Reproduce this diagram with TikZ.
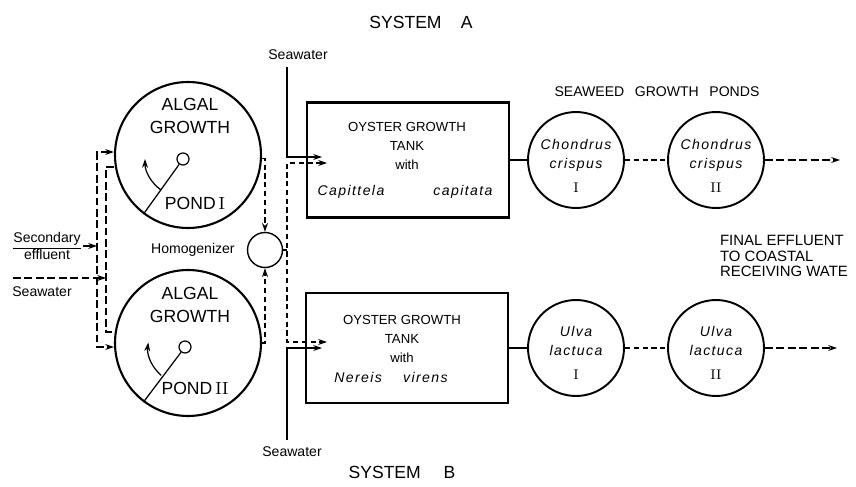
\documentclass[tikz,border=0pt]{standalone}
\usepackage{fontspec}
\setsansfont{Liberation Sans}
\newfontfamily\spcfont{Liberation Sans}[LetterSpace=10]
\usepackage{tikz}
\usetikzlibrary{positioning,arrows.meta,calc}
\newcommand{\rnum}[1]{{\normalfont #1}}
\tikzset{
  pond/.style={draw,circle,line width=1.2pt,minimum size=2.92cm,inner sep=0pt},
  hub/.style={draw,circle,line width=0.7pt,minimum size=0.24cm,inner sep=0pt},
  mixer/.style={draw,circle,line width=0.8pt,minimum size=0.7cm,inner sep=0pt},
  weed/.style={draw,circle,line width=1.1pt,minimum size=1.92cm,inner sep=0pt},
  tank/.style={draw,line width=1.5pt,minimum width=4.04cm,minimum height=2.3cm,inner sep=0pt},
  big/.style={font=\sffamily\fontsize{10}{13}\selectfont,align=center,inner sep=1pt},
  lbl/.style={font=\sffamily\fontsize{8}{9.5}\selectfont,align=center,inner sep=1pt},
  ttl/.style={font=\sffamily\fontsize{7.5}{10.8}\selectfont,align=center,inner sep=1pt},
  spc/.style={font=\spcfont\itshape\fontsize{8}{10.8}\selectfont,align=center,inner sep=1pt},
  pipe/.style={line width=0.7pt},
  dpipe/.style={pipe,dash pattern=on 3pt off 2pt},
  lpipe/.style={pipe,dash pattern=on 4.5pt off 2pt},
  arr/.style={-{Stealth[length=5pt,width=3.4pt]}},
  arrs/.style={{Stealth[length=5pt,width=3.4pt]}-{Stealth[length=5pt,width=3.4pt]}},
}
\begin{document}
\begin{tikzpicture}[x=0.02cm,y=-0.02cm]
\useasboundingbox (0,0) rectangle (856,487);
\node[big] (sysA) at (421,22) {SYSTEM\hspace{11pt}A};
\node[big] (sysB) at (402,472) {SYSTEM\hspace{13pt}B};
\node[pond] (pondI) at (188,155) {};
\node[big] (algI) at (190,116) {ALGAL\\GROWTH};
\node[hub] (hubI) at (183,159) {};
\node[big] (pnI) at (195,203) {POND\,\rnum{I}};
\draw[pipe] (hubI) -- (pondI.233);
\draw[pipe,arr] ($(hubI)+(235:0.76cm)$) arc[start angle=235,end angle=180,radius=0.76cm];
\node[pond] (pondII) at (188,343) {};
\node[big] (algII) at (190,305) {ALGAL\\GROWTH};
\node[hub] (hubII) at (185,347) {};
\node[big] (pnII) at (195,388) {POND\,\rnum{II}};
\draw[pipe] (hubII) -- (pondII.233);
\draw[pipe,arr] ($(hubII)+(230:0.74cm)$) arc[start angle=230,end angle=173,radius=0.74cm];
\node[mixer] (homog) at (265,250) {};
\node[lbl,left=0.2cm of homog] (homlbl) {Homogenizer};
\draw[dpipe,arr] (pondI.357) -| (homog.north);
\draw[dpipe,arr] (pondII.0) -| (homog.south);
\node[lbl] (seceff) at (47,246) {\underline{Secondary}\\effluent};
\node[lbl] (swL) at (42,292) {Seawater};
\coordinate (effTop) at (97,152);
\coordinate (effBot) at (97,347);
\coordinate (swTop) at (106,167);
\coordinate (swBot) at (106,332);
\coordinate (swLin) at (13,278);
\draw[lpipe,arrs] (effTop -| pondI.west) -- (effTop) -- (effBot) -- (effBot -| pondII.west);
\draw[lpipe] (swTop -| pondI.west) -- (swTop) -- (swBot) -- (swBot -| pondII.west);
\draw[pipe,arr] (seceff.east) -- (seceff.east -| effTop);
\draw[lpipe,arr] (swLin) -- (swLin -| swTop);
\node[tank] (tankA) at (408,160) {};
\node[tank,minimum height=2.2cm] (tankB) at (407,348) {};
\node[ttl] (ttlA) at (407,146) {OYSTER GROWTH\\TANK\\with};
\node[ttl] (ttlB) at (402,339) {OYSTER GROWTH\\TANK\\with};
\node[spc] (spA1) at (351,192) {Capittela};
\node[spc] (spA2) at (463,192) {capitata};
\node[spc] (spB) at (391,377) {Nereis\hspace{12pt}virens};
\node[lbl] (swA) at (298,55) {Seawater};
\node[lbl] (swB) at (292,452) {Seawater};
\coordinate (swAtop) at (287,67);
\coordinate (swBbot) at (287,440);
\coordinate (mixTop) at (287,163);
\coordinate (mixBot) at (287,342);
\coordinate (inA1) at (322,157);
\coordinate (inA2) at (327,163);
\coordinate (inB1) at (322,348);
\coordinate (inB2) at (327,342);
\draw[pipe,arr] (swAtop) |- (inA1);
\draw[pipe,arr] (swBbot) |- (inB1);
\draw[dpipe] (homog.east) -- (homog.east -| mixTop);
\draw[dpipe,arrs] (inA2) -- (mixTop) -- (mixBot) -- (inB2);
\node[lbl] (weedttl) at (657,92) {SEAWEED\hspace{6pt}GROWTH\hspace{6pt}PONDS};
\node[weed] (chI) at (576,160) {};
\node[weed] (chII) at (716,160) {};
\node[weed] (ulI) at (576,348) {};
\node[weed] (ulII) at (716,348) {};
\node[spc] (chItx) at (576,166) {Chondrus\\crispus\\[3pt]\rnum{I}};
\node[spc] (chIItx) at (716,166) {Chondrus\\crispus\\[3pt]\rnum{II}};
\node[spc] (ulItx) at (576,353) {Ulva\\lactuca\\[3pt]\rnum{I}};
\node[spc] (ulIItx) at (716,353) {Ulva\\lactuca\\[3pt]\rnum{II}};
\coordinate (outA) at (840,160);
\coordinate (outB) at (837,348);
\draw[pipe] (tankA) -- (chI);
\draw[dpipe] (chI) -- (chII);
\draw[lpipe,arr] (chII) -- (outA);
\draw[pipe] (tankB) -- (ulI);
\draw[dpipe] (ulI) -- (ulII);
\draw[lpipe,arr] (ulII) -- (outB);
\node[lbl,font=\sffamily\fontsize{8.5}{8.6}\selectfont,align=left,anchor=west] (final) at (718,256) {FINAL EFFLUENT\\TO COASTAL\\RECEIVING WATE};
\end{tikzpicture}
\end{document}
